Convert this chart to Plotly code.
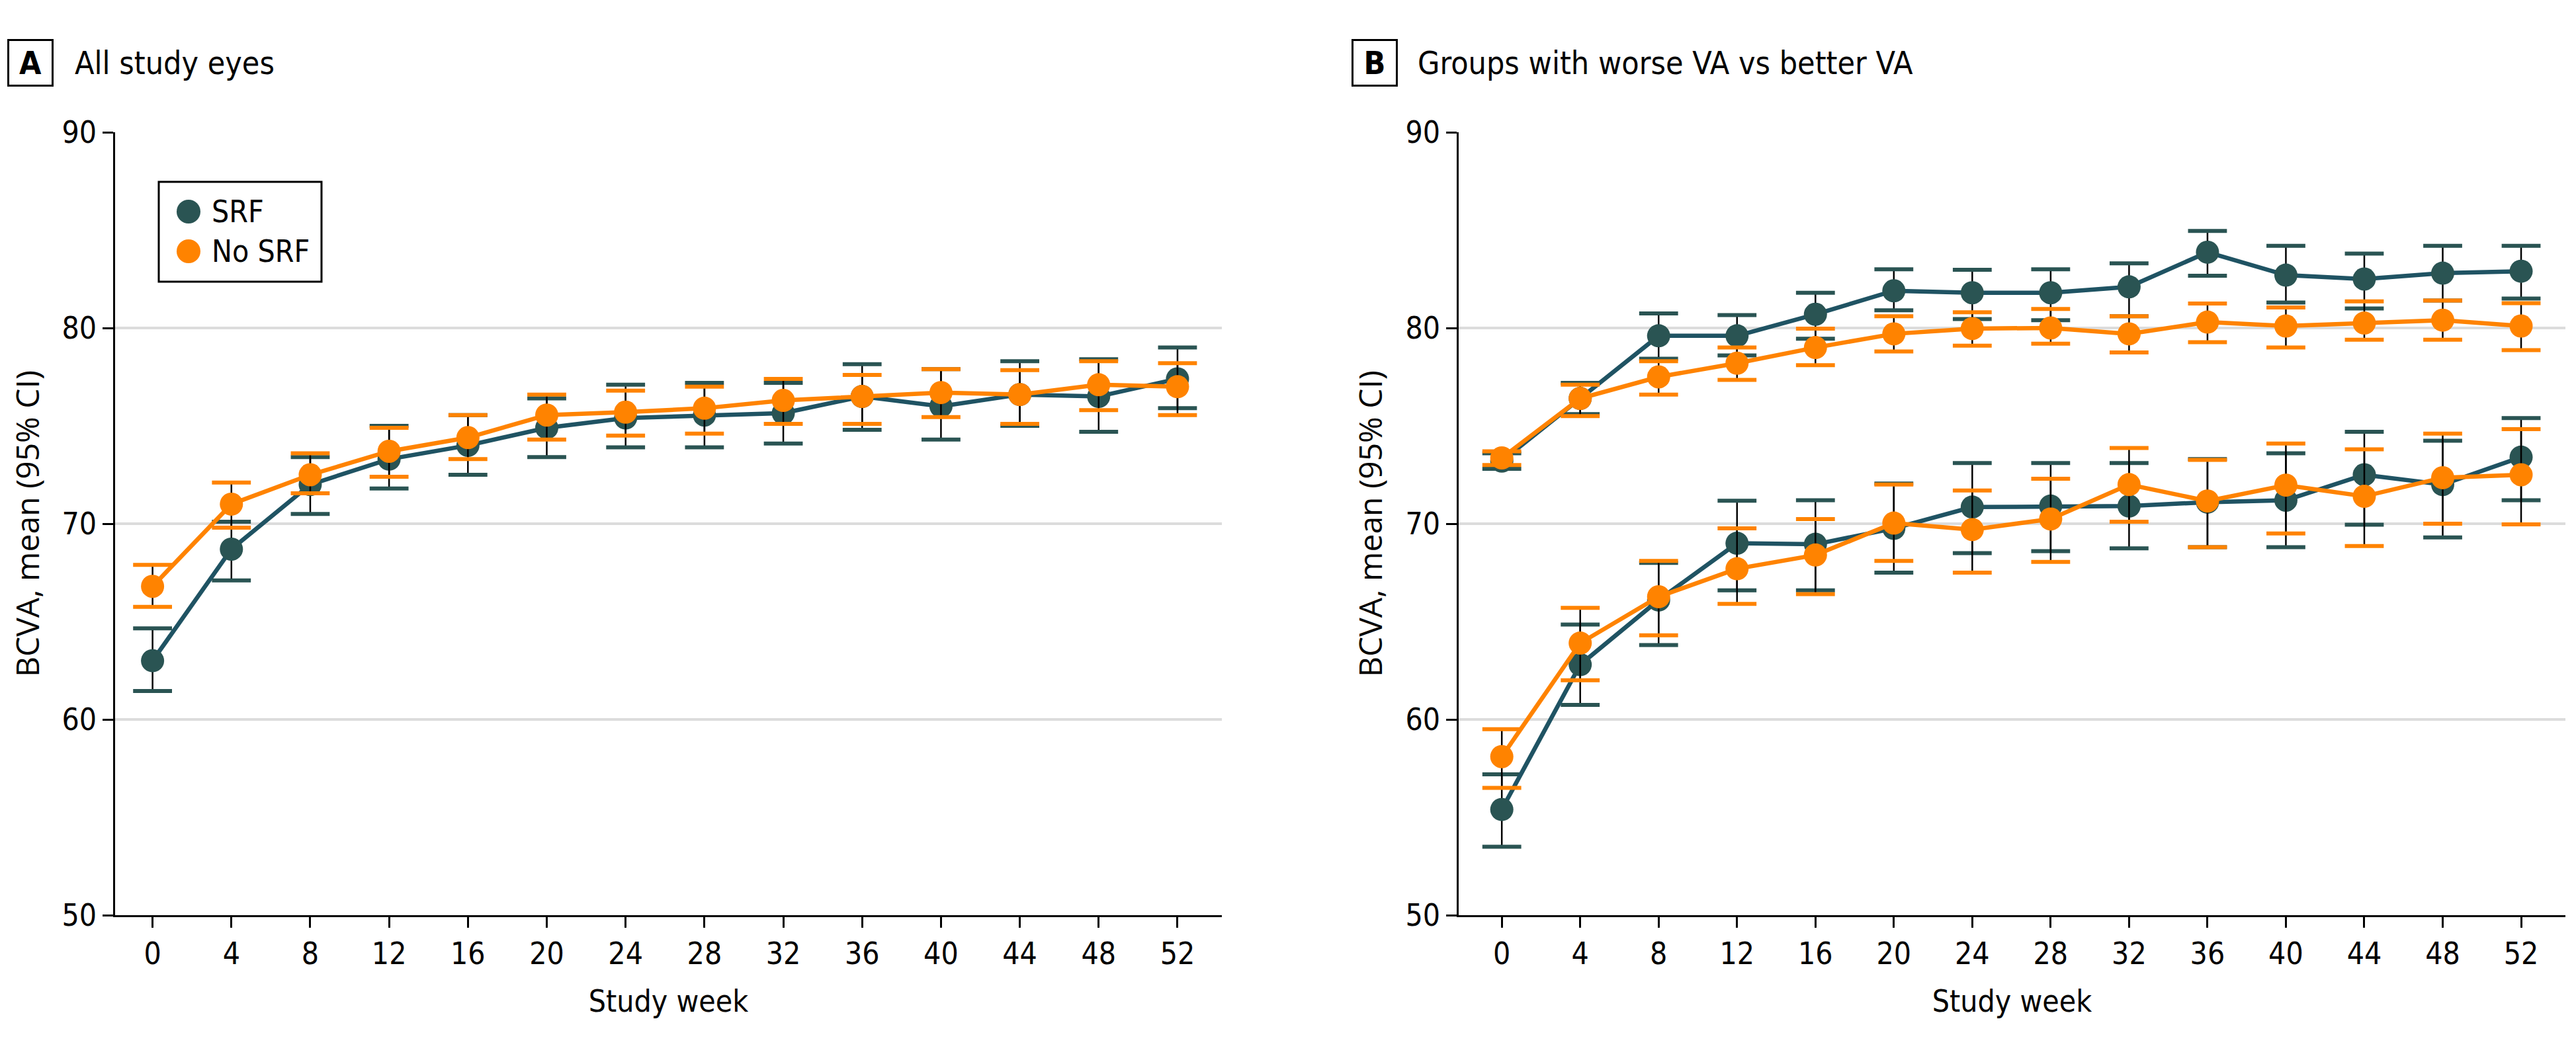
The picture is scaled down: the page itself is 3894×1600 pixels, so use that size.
import plotly.graph_objects as go

weeks = [0, 4, 8, 12, 16, 20, 24, 28, 32, 36, 40, 44, 48, 52]
tick_labels = [str(w) for w in weeks]
y_ticks = [50, 60, 70, 80, 90]
series_names = ["SRF", "No SRF"]

# Panel A: all study eyes
a_srf_mean = [63.0, 68.7, 72.0, 73.3, 74.0, 74.9, 75.4, 75.55, 75.65, 76.5, 76.0, 76.6, 76.5, 77.4]
a_srf_hi = [64.65, 70.1, 73.4, 75.0, 75.55, 76.4, 77.1, 77.2, 77.2, 78.15, 77.9, 78.3, 78.4, 79.0]
a_srf_lo = [61.45, 67.1, 70.5, 71.8, 72.5, 73.4, 73.9, 73.9, 74.1, 74.8, 74.3, 75.0, 74.7, 75.9]

a_no_mean = [66.8, 71.0, 72.5, 73.7, 74.4, 75.55, 75.7, 75.9, 76.3, 76.5, 76.7, 76.6, 77.1, 77.0]
a_no_hi = [67.9, 72.1, 73.6, 74.9, 75.55, 76.6, 76.8, 77.0, 77.4, 77.6, 77.9, 77.85, 78.3, 78.2]
a_no_lo = [65.75, 69.8, 71.55, 72.4, 73.3, 74.3, 74.5, 74.6, 75.1, 75.1, 75.45, 75.1, 75.8, 75.55]

# Panel B: better VA group
b_better_srf_mean = [73.2, 76.4, 79.6, 79.6, 80.7, 81.9, 81.8, 81.8, 82.1, 83.87, 82.7, 82.5, 82.8, 82.9]
b_better_srf_hi = [73.6, 77.2, 80.74, 80.66, 81.8, 83.0, 82.97, 83.0, 83.3, 84.96, 84.2, 83.8, 84.2, 84.2]
b_better_srf_lo = [72.8, 75.6, 78.43, 78.6, 79.45, 80.9, 80.46, 80.4, 80.6, 82.67, 81.3, 81.0, 81.4, 81.5]

b_better_no_mean = [73.36, 76.4, 77.5, 78.2, 79.0, 79.7, 79.97, 80.0, 79.7, 80.3, 80.1, 80.25, 80.4, 80.1]
b_better_no_hi = [73.7, 77.1, 78.3, 79.0, 79.97, 80.6, 80.8, 80.97, 80.6, 81.25, 81.05, 81.36, 81.4, 81.27]
b_better_no_lo = [73.0, 75.5, 76.6, 77.35, 78.1, 78.8, 79.1, 79.2, 78.75, 79.27, 79.0, 79.4, 79.4, 78.87]

# Panel B: worse VA group
b_worse_srf_mean = [55.4, 62.8, 66.1, 69.0, 68.95, 69.76, 70.85, 70.9, 70.9, 71.1, 71.2, 72.5, 72.0, 73.4]
b_worse_srf_hi = [57.2, 64.85, 68.0, 71.17, 71.2, 72.05, 73.1, 73.1, 73.1, 73.3, 73.6, 74.7, 74.24, 75.4]
b_worse_srf_lo = [53.5, 60.74, 63.8, 66.6, 66.6, 67.5, 68.5, 68.6, 68.74, 68.8, 68.8, 69.95, 69.3, 71.2]

b_worse_no_mean = [58.1, 63.9, 66.27, 67.7, 68.4, 70.03, 69.7, 70.24, 72.0, 71.16, 71.97, 71.4, 72.35, 72.5]
b_worse_no_hi = [59.5, 65.7, 68.1, 69.76, 70.24, 72.0, 71.7, 72.3, 73.87, 73.26, 74.1, 73.8, 74.6, 74.83]
b_worse_no_lo = [56.5, 62.0, 64.3, 65.9, 66.4, 68.1, 67.5, 68.05, 70.1, 68.8, 69.5, 68.86, 70.0, 69.97]

TEAL_MARK = "#2a5453"
TEAL_LINE = "#1f5363"
ORANGE = "#ff8300"
FONT = "Liberation Sans Narrow, DejaVu Sans Condensed, Arial Narrow, sans-serif"

fig = go.Figure()


def add_series(xa, ya, mean, hi, lo, mark_color, line_color, name):
    plus = [h - m for h, m in zip(hi, mean)]
    minus = [m - l for m, l in zip(mean, lo)]
    # black stems
    fig.add_trace(go.Scatter(
        x=weeks, y=mean, mode="markers", marker=dict(size=1, opacity=0),
        error_y=dict(type="data", array=plus, arrayminus=minus, symmetric=False,
                     color="black", thickness=2.5, width=0),
        xaxis=xa, yaxis=ya, showlegend=False, hoverinfo="skip"))
    # colored caps
    fig.add_trace(go.Scatter(
        x=weeks + weeks, y=hi + lo, mode="markers",
        marker=dict(symbol="line-ew", size=42, line=dict(color=mark_color, width=6)),
        xaxis=xa, yaxis=ya, showlegend=False, hoverinfo="skip"))
    # connecting line
    fig.add_trace(go.Scatter(
        x=weeks, y=mean, mode="lines", line=dict(color=line_color, width=6.5),
        xaxis=xa, yaxis=ya, showlegend=False, hoverinfo="skip"))
    # markers
    fig.add_trace(go.Scatter(
        x=weeks, y=mean, mode="markers", name=name,
        marker=dict(size=35, color=mark_color),
        xaxis=xa, yaxis=ya, showlegend=False))


add_series("x", "y", a_srf_mean, a_srf_hi, a_srf_lo, TEAL_MARK, TEAL_LINE, series_names[0])
add_series("x", "y", a_no_mean, a_no_hi, a_no_lo, ORANGE, ORANGE, series_names[1])
add_series("x2", "y2", b_better_srf_mean, b_better_srf_hi, b_better_srf_lo, TEAL_MARK, TEAL_LINE, series_names[0])
add_series("x2", "y2", b_worse_srf_mean, b_worse_srf_hi, b_worse_srf_lo, TEAL_MARK, TEAL_LINE, series_names[0])
add_series("x2", "y2", b_better_no_mean, b_better_no_hi, b_better_no_lo, ORANGE, ORANGE, series_names[1])
add_series("x2", "y2", b_worse_no_mean, b_worse_no_hi, b_worse_no_lo, ORANGE, ORANGE, series_names[1])

W, H = 3894, 1600
top_px, bot_px = 192, 1376

xaxis_common = dict(
    tickvals=weeks, ticktext=tick_labels, showgrid=False, zeroline=False,
    showline=True, linecolor="black", linewidth=3, ticks="outside", ticklen=16,
    tickwidth=2.5, tickcolor="black", tickfont=dict(family=FONT, size=46, color="black"),
    title=dict(text="Study week", font=dict(family=FONT, size=46, color="black"), standoff=30),
)
yaxis_common = dict(
    range=[50, 90], tickvals=y_ticks, showgrid=True, gridcolor="#dcdcdc", gridwidth=4,
    zeroline=False, showline=True, linecolor="black", linewidth=2.5, ticks="outside",
    ticklen=16, tickwidth=2.5, tickcolor="black",
    tickfont=dict(family=FONT, size=46, color="black"),
    title=dict(text="BCVA, mean (95% CI)", font=dict(family="Open Sans, sans-serif", size=48, color="black"),
               standoff=20),
)

fig.update_layout(
    width=W, height=H, plot_bgcolor="white", paper_bgcolor="white",
    margin=dict(l=0, r=0, t=top_px, b=H - bot_px),
    xaxis=dict(domain=[166 / W, 1839 / W], range=[-1.9, 54.25], anchor="y", **xaxis_common),
    yaxis=dict(domain=[0, 1], anchor="x", **yaxis_common),
    xaxis2=dict(domain=[2197 / W, 3870 / W], range=[-2.2, 54.26], anchor="y2", **xaxis_common),
    yaxis2=dict(domain=[0, 1], anchor="x2", **yaxis_common),
    showlegend=False,
)


def py(px):
    return (bot_px - px) / (bot_px - top_px)


# Panel titles
for letter, bx, tx, text in [("A", 38, 103, "All study eyes"),
                             ("B", 2070, 2133, "Groups with worse VA vs better VA")]:
    fig.add_annotation(x=bx / W, y=py(87), xref="paper", yref="paper", text="<b>%s</b>" % letter,
                       showarrow=False, xanchor="center", yanchor="middle",
                       width=64, height=66, bordercolor="black", borderwidth=3, borderpad=0,
                       font=dict(family=FONT, size=48, color="black"))
    fig.add_annotation(x=tx / W, y=py(87), xref="paper", yref="paper", text=text,
                       showarrow=False, xanchor="left", yanchor="middle",
                       font=dict(family=FONT, size=48, color="black"))

# Legend box (panel A)
fig.add_shape(type="rect", xref="paper", yref="paper",
              x0=232 / W, x1=478 / W, y0=py(418), y1=py(267),
              line=dict(color="black", width=3), fillcolor="white", layer="above")
for name, color, cy in [(series_names[0], TEAL_MARK, 312), (series_names[1], ORANGE, 372)]:
    fig.add_shape(type="circle", xref="paper", yref="paper",
                  x0=(277 - 18) / W, x1=(277 + 18) / W, y0=py(cy + 18), y1=py(cy - 18),
                  line=dict(width=0), fillcolor=color, layer="above")
    fig.add_annotation(x=310 / W, y=py(cy), xref="paper", yref="paper", text=name,
                       showarrow=False, xanchor="left", yanchor="middle",
                       font=dict(family=FONT, size=46, color="black"))

fig.write_html("out.html")
